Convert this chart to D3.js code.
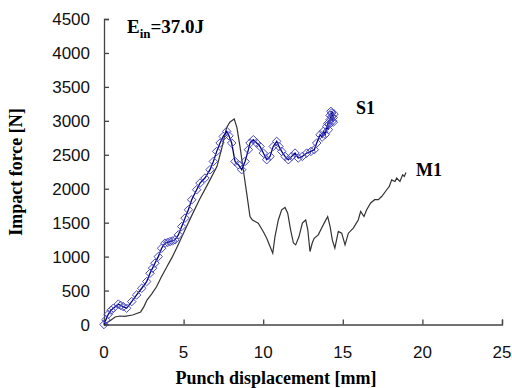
<!DOCTYPE html>
<html>
<head>
<meta charset="utf-8">
<script src="https://cdn.jsdelivr.net/npm/d3@7"></script>
<style>
  body { margin: 0; background: #fff; }
  svg { display: block; }
</style>
</head>
<body>
<svg width="512" height="388"></svg>
<script>
// values
const xTicks = [0, 5, 10, 15, 20, 25];
const yTicks = [0, 500, 1000, 1500, 2000, 2500, 3000, 3500, 4000, 4500];

const m1Disp = [0, 0.4, 0.7, 1.0, 1.3, 1.8, 2.3, 2.5, 2.7, 3.0, 3.3, 3.6, 3.95, 4.3, 4.6, 5.1, 5.5, 6.0, 6.5, 7.1,
  7.4, 7.7, 7.9, 8.18, 8.35, 8.54, 8.81, 8.96, 9.17, 9.32, 9.69, 10.0, 10.22, 10.43, 10.6, 10.74, 10.95, 11.16,
  11.37, 11.54, 11.72, 11.9, 12.04, 12.25, 12.46, 12.67, 12.8, 12.94, 13.08, 13.2, 13.46, 13.67, 13.88, 14.05,
  14.2, 14.34, 14.5, 14.72, 14.93, 15.14, 15.35, 15.66, 15.97, 16.12, 16.33, 16.5, 16.75, 17.0, 17.23, 17.44,
  17.76, 17.92, 18.07, 18.28, 18.38, 18.59, 18.76, 18.86, 18.97];
const m1Force = [0, 60, 110, 125, 120, 140, 185, 260, 360, 450, 555, 700, 850, 1000, 1145, 1400, 1600, 1840, 2060, 2330,
  2600, 2900, 2980, 3027, 2900, 2623, 2180, 1940, 1590, 1540, 1493, 1370, 1270, 1150, 1050, 1295, 1540, 1690,
  1725, 1640, 1395, 1200, 1173, 1295, 1493, 1540, 1395, 1075, 1200, 1270, 1320, 1420, 1515, 1590,
  1445, 1247, 1125, 1370, 1345, 1173, 1345, 1420, 1540, 1665, 1590, 1690, 1790, 1838, 1838, 1885,
  1985, 2033, 2130, 2107, 2157, 2107, 2205, 2180, 2240];

const s1Disp = [0, 0.12, 0.27, 0.45, 0.59, 0.9, 1.05, 1.21, 1.42, 1.74, 2.05, 2.37, 2.68, 2.89, 3.05, 3.2, 3.41, 3.62,
  3.83, 4.0, 4.15, 4.3, 4.46, 4.67, 4.88, 5.09, 5.3, 5.51, 5.82, 6.03, 6.34, 6.66, 6.87, 7.08, 7.29, 7.49, 7.71,
  7.85, 8.02, 8.23, 8.44, 8.65, 8.86, 9.07, 9.17, 9.38, 9.59, 9.8, 10.01, 10.22, 10.43, 10.63, 10.85, 10.99,
  11.16, 11.37, 11.58, 11.79, 12.0, 12.2, 12.46, 12.73, 13.0, 13.21, 13.36, 13.57, 13.7, 13.78, 13.9, 13.99,
  14.1, 14.05, 14.2, 14.15, 14.3, 14.4, 14.25, 14.45, 14.35, 14.2, 14.4, 14.3];
const s1Force = [0, 70, 150, 210, 240, 300, 280, 263, 240, 337, 435, 534, 632, 755, 830, 903, 1000, 1124,
  1198, 1210, 1222, 1230, 1247, 1320, 1443, 1567, 1690, 1837, 1985, 2083, 2157, 2280, 2402, 2550, 2673, 2770, 2845,
  2780, 2673, 2402, 2353, 2280, 2402, 2575, 2673, 2722, 2673, 2623, 2525, 2427, 2476, 2623, 2697, 2623,
  2550, 2476, 2427, 2476, 2525, 2452, 2476, 2525, 2550, 2575, 2673, 2795, 2760, 2845, 2800, 2918,
  2870, 2960, 3017, 2950, 3115, 3050, 3140, 3100, 3000, 3080, 2980, 3060];

const svg = d3.select('svg');
const x = d3.scaleLinear().domain([0, 25]).range([104, 502]);
const y = d3.scaleLinear().domain([0, 4500]).range([324.5, 19]);

const axisColor = '#444';

// y axis, ticks pointing in
const gy = svg.append('g')
  .attr('transform', 'translate(104,0)')
  .call(d3.axisRight(y).tickValues(yTicks).tickSize(5).tickFormat(''));
gy.select('.domain').attr('stroke', axisColor).attr('stroke-width', 1.3);
gy.selectAll('.tick line').attr('stroke', axisColor).attr('stroke-width', 1.3);

// x axis, ticks pointing up
const gx = svg.append('g')
  .attr('transform', 'translate(0,324.5)')
  .call(d3.axisTop(x).tickValues(xTicks).tickSize(5).tickFormat(''));
gx.select('.domain').attr('stroke', axisColor).attr('stroke-width', 1.3);
gx.selectAll('.tick line').attr('stroke', axisColor).attr('stroke-width', 1.3);

// tick labels
svg.append('g').selectAll('text').data(yTicks).join('text')
  .attr('x', 90).attr('y', d => y(d) + 6)
  .attr('text-anchor', 'end')
  .style('font', '17px "Liberation Sans", Arial, sans-serif')
  .attr('fill', '#111')
  .text(d => d);

svg.append('g').selectAll('text').data(xTicks).join('text')
  .attr('x', d => x(d)).attr('y', 358)
  .attr('text-anchor', 'middle')
  .style('font', '17px "Liberation Sans", Arial, sans-serif')
  .attr('fill', '#111')
  .text(d => d);

const m1 = m1Disp.map((d, i) => [d, m1Force[i]]);
const s1 = s1Disp.map((d, i) => [d, s1Force[i]]);
const line = d3.line().x(d => x(d[0])).y(d => y(d[1]));

// M1 curve
svg.append('path').datum(m1)
  .attr('d', line)
  .attr('fill', 'none')
  .attr('stroke', '#333')
  .attr('stroke-width', 1.2);

// S1 curve with diamond markers
svg.append('path').datum(s1)
  .attr('d', line)
  .attr('fill', 'none')
  .attr('stroke', '#000080')
  .attr('stroke-width', 1.3);

const diamond = d3.symbol().type(d3.symbolDiamond2).size(46);
svg.append('g').selectAll('path').data(s1).join('path')
  .attr('transform', d => `translate(${x(d[0])},${y(d[1])})`)
  .attr('d', diamond)
  .attr('fill', 'none')
  .attr('stroke', '#4848c0')
  .attr('stroke-width', 1);

// labels
const serif = '"Liberation Serif", "Times New Roman", serif';
const ein = svg.append('text')
  .attr('x', 127).attr('y', 33)
  .style('font-family', serif).style('font-weight', 'bold').style('font-size', '19px')
  .attr('fill', '#000');
ein.append('tspan').text('E');
ein.append('tspan').attr('dy', 5).style('font-size', '13px').text('in');
ein.append('tspan').attr('dy', -5).text('=37.0J');

svg.append('text')
  .attr('x', 356).attr('y', 114)
  .style('font-family', serif).style('font-weight', 'bold').style('font-size', '18px')
  .text('S1');

svg.append('text')
  .attr('x', 416).attr('y', 176)
  .style('font-family', serif).style('font-weight', 'bold').style('font-size', '18px')
  .text('M1');

svg.append('text')
  .attr('transform', 'translate(22,172) rotate(-90)')
  .attr('text-anchor', 'middle')
  .style('font-family', serif).style('font-weight', 'bold').style('font-size', '18px')
  .text('Impact force [N]');

svg.append('text')
  .attr('x', 276).attr('y', 384)
  .attr('text-anchor', 'middle')
  .style('font-family', serif).style('font-weight', 'bold').style('font-size', '18px')
  .text('Punch displacement [mm]');
</script>
</body>
</html>
